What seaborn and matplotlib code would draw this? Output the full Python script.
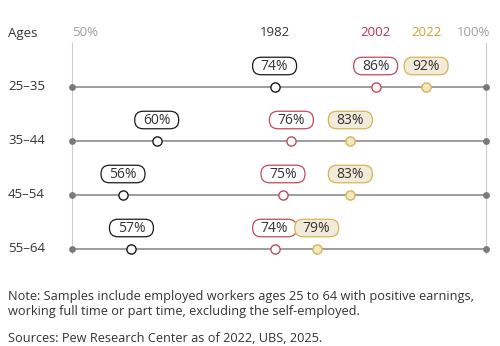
import matplotlib
matplotlib.use("Agg")
import matplotlib.pyplot as plt
from matplotlib.patches import FancyBboxPatch
import seaborn as sns
import pandas as pd

ages = ["25–35", "35–44", "45–54", "55–64"]
years = ["1982", "2002", "2022"]
v1982 = [74, 60, 56, 57]
v2002 = [86, 76, 75, 74]
v2022 = [92, 83, 83, 79]
axis_ticks = ["50%", "100%"]

sns.set_theme(style="white")
plt.rcParams['font.family'] = ['Open Sans', 'DejaVu Sans']

edge_cols = {"1982": "#1a1a1a", "2002": "#c24a5a", "2022": "#d4b45a"}
face_cols = {"1982": "#ffffff", "2002": "#ffffff", "2022": "#f3ebda"}
mface_cols = {"1982": "#ffffff", "2002": "#ffffff", "2022": "#f5e6bd"}
head_cols = {"1982": "#333333", "2002": "#b8334a", "2022": "#c9a032"}

rows = []
for i, a in enumerate(ages):
    for y, vals in zip(years, [v1982, v2002, v2022]):
        rows.append({"age": a, "row": i, "year": y, "value": vals[i]})
df = pd.DataFrame(rows)

fig = plt.figure(figsize=(5.0, 3.46), dpi=100)
ax = fig.add_axes([0, 0, 1, 1])
pxx = 8.42
x0px = 72.5
ax.set_xlim(50 - x0px / pxx, 50 + (500 - x0px) / pxx)
rowpx = 54
ax.set_ylim((346 - 87) / rowpx, -87 / rowpx)
ax.axis("off")

line_end = 50 + (486 - x0px) / pxx

# vertical reference lines
ax.vlines([50, line_end], -45 / rowpx, (254 - 87) / rowpx, color="#cccccc", lw=0.8, zorder=1)
# horizontal lines
ax.hlines(range(len(ages)), 50, line_end, color="#8c8c8c", lw=1.2, zorder=2)
# endpoints
ends = pd.DataFrame({"x": [50, line_end] * len(ages), "y": [i for i in range(len(ages)) for _ in range(2)]})
sns.scatterplot(data=ends, x="x", y="y", ax=ax, color="#7a7a7a", s=24, linewidth=0, zorder=3, legend=False)

bw, bh, br = 44 / pxx, 17.5 / rowpx, 8.5 / pxx
aspect = (1 / rowpx) / (1 / pxx)
for yr in years:
    sub = df[df.year == yr]
    sns.scatterplot(data=sub, x="value", y="row", ax=ax, s=44, facecolor=mface_cols[yr],
                    edgecolor=edge_cols[yr], linewidth=1.0, zorder=4, legend=False)
    for _, r in sub.iterrows():
        cy = r.row - 21 / rowpx
        patch = FancyBboxPatch((r.value - bw / 2, cy - bh / 2), bw, bh,
                               boxstyle=f"round,pad=0,rounding_size={br}",
                               mutation_aspect=aspect, fc=face_cols[yr], ec=edge_cols[yr],
                               lw=0.9, zorder=5)
        ax.add_patch(patch)
        ax.text(r.value, cy + 0.5 / rowpx, f"{r.value}%", ha="center", va="center",
                fontsize=10, color="#333333", zorder=6)

# header
hy = -54 / rowpx
lx = 50 - (x0px - 8) / pxx
ax.text(lx, hy, "Ages", ha="left", va="center", fontsize=9.5, color="#333333")
ax.text(50, hy, axis_ticks[0], ha="left", va="center", fontsize=9.5, color="#a0a0a0")
ax.text(line_end + 4 / pxx, hy, axis_ticks[1], ha="right", va="center", fontsize=9.5, color="#a0a0a0")
for yr, vals in zip(years, [v1982, v2002, v2022]):
    ax.text(vals[0], hy, yr, ha="center", va="center", fontsize=9.5, color=head_cols[yr])

for i, a in enumerate(ages):
    ax.text(lx, i, a, ha="left", va="center", fontsize=9.5, color="#333333")

fig.text(8 / 500, 1 - 304 / 346, "Note: Samples include employed workers ages 25 to 64 with positive earnings,\nworking full time or part time, excluding the self-employed.",
         ha="left", va="center", fontsize=9.2, color="#333333", linespacing=1.2)
fig.text(8 / 500, 1 - 338 / 346, "Sources: Pew Research Center as of 2022, UBS, 2025.",
         ha="left", va="center", fontsize=9.2, color="#333333")

fig.savefig("out.png", dpi=100)
